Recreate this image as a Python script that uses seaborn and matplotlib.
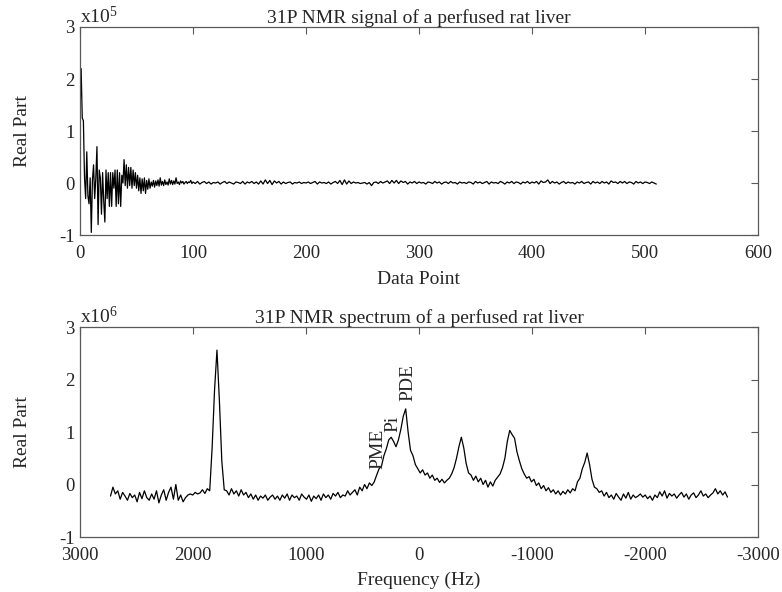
import matplotlib
matplotlib.use("Agg")
import matplotlib.pyplot as plt
import seaborn as sns
import pandas as pd
import numpy as np


# ---- FID (top panel), real part in units of 1e5 ----
# every data point for the first 100 samples
FID_HEAD = [
    1.30, 2.20, 1.25, 1.20, 0.10, -0.30, 0.60, -0.25, -0.40, 0.10,
    -0.95, 0.05, 0.35, -0.30, 0.10, 0.70, -0.80, 0.25, 0.10, -0.60,
    0.20, -0.35, -0.75, 0.25, -0.30, 0.20, -0.45, 0.20, -0.45, 0.20,
    -0.10, 0.25, -0.45, 0.25, -0.40, 0.20, -0.45, 0.15, 0.00, 0.45,
    -0.05, 0.35, -0.10, 0.30, -0.05, 0.30, -0.10, 0.25, -0.05, 0.20,
    -0.10, 0.15, -0.15, 0.10, -0.20, 0.08, -0.15, 0.10, -0.20, 0.05,
    -0.12, 0.08, -0.10, 0.02, -0.06, 0.05, -0.08, 0.04, -0.05, 0.06,
    -0.06, 0.10, -0.04, 0.03, -0.05, 0.06, -0.03, 0.02, -0.04, 0.08,
    -0.02, 0.05, -0.03, 0.04, -0.02, 0.10, -0.01, 0.02, -0.03, 0.04,
    0.00, 0.03, -0.02, 0.01, 0.03, -0.01, 0.02, 0.01, 0.05, -0.01,
]
# every second data point from 100 to 510
FID_TAIL = [
    0.02, -0.01, 0.03, -0.02, 0.01, 0.03, -0.01, 0.02, -0.02, 0.01,
    0.00, 0.02, -0.02, 0.01, 0.03, -0.01, 0.02, 0.00, -0.02, 0.02,
    0.01, -0.01, 0.03, -0.02, 0.02, 0.00, 0.03, -0.01, 0.02, -0.02,
    0.04, -0.02, 0.06, -0.01, 0.05, -0.03, 0.04, 0.00, 0.03, -0.02,
    0.02, -0.01, 0.01, 0.02, -0.02, 0.01, 0.00, 0.02, -0.01, 0.01,
    0.00, 0.02, -0.01, 0.01, 0.03, -0.02, 0.02, 0.00, 0.01, -0.01,
    0.02, -0.02, 0.01, 0.03, -0.01, 0.05, -0.03, 0.06, -0.02, 0.04,
    -0.01, 0.02, 0.00, 0.01, -0.01, 0.00, 0.01, -0.02, 0.01, -0.05,
    0.01, 0.02, -0.01, 0.03, 0.00, 0.02, 0.04, -0.01, 0.05, 0.00,
    0.05, -0.01, 0.04, 0.01, 0.03, -0.02, 0.02, 0.00, 0.03, -0.01,
    0.02, 0.00, 0.01, -0.02, 0.02, 0.01, -0.01, 0.03, 0.00, 0.02,
    -0.02, 0.01, 0.02, -0.01, 0.03, 0.00, 0.01, -0.02, 0.02, 0.00,
    0.01, -0.01, 0.02, 0.01, -0.02, 0.03, 0.00, 0.02, -0.01, 0.01,
    0.03, -0.02, 0.02, 0.00, 0.01, -0.01, 0.03, 0.01, -0.02, 0.02,
    0.00, 0.03, -0.01, 0.02, 0.01, -0.02, 0.02, 0.00, 0.03, -0.01,
    0.02, 0.00, 0.03, -0.02, 0.04, 0.01, 0.02, 0.06, -0.01, 0.03,
    0.00, 0.02, -0.02, 0.01, 0.03, -0.01, 0.02, 0.00, 0.01, -0.02,
    0.02, 0.00, 0.03, -0.01, 0.01, 0.02, -0.02, 0.03, 0.00, 0.02,
    -0.01, 0.03, 0.00, 0.02, -0.02, 0.04, 0.01, 0.02, -0.01, 0.03,
    0.00, 0.03, -0.01, 0.02, 0.01, -0.02, 0.03, 0.00, 0.02, -0.01,
    0.02, 0.01, -0.01, 0.02, 0.00, -0.02,
]

# ---- spectrum (bottom panel), real part in units of 1e6 ----
FREQ_START, FREQ_END = 2730, -2730
SPECTRUM = [
    -0.22, -0.05, -0.18, -0.12, -0.28, -0.15, -0.22, -0.30, -0.17, -0.25,
    -0.20, -0.33, -0.15, -0.27, -0.12, -0.25, -0.30, -0.18, -0.28, -0.12,
    -0.35, -0.20, -0.10, -0.30, -0.15, -0.05, -0.28, 0.00, -0.30, -0.20,
    -0.33, -0.25, -0.20, -0.18, -0.20, -0.15, -0.18, -0.16, -0.10, -0.17,
    -0.08, -0.12, 0.70, 1.80, 2.56, 1.60, 0.45, -0.10, -0.12, -0.20,
    -0.08, -0.18, -0.12, -0.22, -0.10, -0.20, -0.15, -0.25, -0.18, -0.28,
    -0.20, -0.30, -0.22, -0.26, -0.20, -0.30, -0.24, -0.20, -0.28, -0.22,
    -0.30, -0.20, -0.26, -0.18, -0.30, -0.20, -0.25, -0.22, -0.30, -0.18,
    -0.24, -0.28, -0.20, -0.32, -0.22, -0.27, -0.20, -0.30, -0.18, -0.25,
    -0.20, -0.28, -0.17, -0.22, -0.15, -0.25, -0.20, -0.22, -0.12, -0.20,
    -0.15, -0.10, -0.20, -0.05, -0.12, 0.00, -0.08, 0.03, -0.02, 0.05,
    0.18, 0.30, 0.35, 0.55, 0.68, 0.85, 0.90, 0.82, 0.72, 0.85,
    1.05, 1.30, 1.44, 1.00, 0.65, 0.55, 0.38, 0.30, 0.22, 0.28,
    0.18, 0.22, 0.12, 0.18, 0.08, 0.12, 0.04, 0.10, 0.03, 0.08,
    0.12, 0.20, 0.32, 0.50, 0.72, 0.90, 0.70, 0.40, 0.22, 0.18,
    0.08, 0.16, 0.05, 0.12, 0.00, 0.08, -0.05, 0.05, -0.03, 0.08,
    0.14, 0.20, 0.32, 0.50, 0.82, 1.03, 0.95, 0.88, 0.62, 0.45,
    0.30, 0.20, 0.12, 0.15, 0.05, 0.10, -0.02, 0.03, -0.08, -0.02,
    -0.12, -0.06, -0.15, -0.10, -0.18, -0.12, -0.20, -0.13, -0.18, -0.10,
    -0.16, -0.08, -0.12, 0.05, 0.12, 0.30, 0.42, 0.60, 0.38, 0.10,
    -0.05, -0.08, -0.15, -0.12, -0.22, -0.15, -0.25, -0.20, -0.28, -0.17,
    -0.24, -0.30, -0.18, -0.26, -0.15, -0.28, -0.20, -0.25, -0.22, -0.18,
    -0.24, -0.20, -0.27, -0.22, -0.30, -0.20, -0.25, -0.14, -0.22, -0.12,
    -0.26, -0.17, -0.22, -0.18, -0.26, -0.20, -0.15, -0.24, -0.18, -0.28,
    -0.20, -0.16, -0.25, -0.20, -0.12, -0.22, -0.18, -0.25, -0.20, -0.16,
    -0.08, -0.18, -0.12, -0.20, -0.14, -0.24,
]

PEAK_LABELS = ["PME", "Pi", "PDE"]
PEAK_LABEL_FREQ = [366, 229, 101]
PEAK_LABEL_Y = [0.29, 1.00, 1.60]

TOP_XTICKS = [0, 100, 200, 300, 400, 500, 600]
BOTTOM_XTICKS = [3000, 2000, 1000, 0, -1000, -2000, -3000]
YTICKS = [-1, 0, 1, 2, 3]


sns.set_style("white")
plt.rcParams["font.family"] = ["Liberation Serif", "DejaVu Serif"]
plt.rcParams["mathtext.fontset"] = "custom"
plt.rcParams["mathtext.rm"] = "Liberation Serif"
plt.rcParams["mathtext.it"] = "Liberation Serif"
plt.rcParams["axes.unicode_minus"] = False

FS = 14
TICK_FS = 13.5
FRAME = "0.35"

fid = pd.DataFrame({
    "Data Point": np.concatenate([np.arange(len(FID_HEAD)),
                                  len(FID_HEAD) + 2 * np.arange(len(FID_TAIL))]),
    "Real Part": FID_HEAD + FID_TAIL,
})
spec = pd.DataFrame({
    "Frequency (Hz)": np.linspace(FREQ_START, FREQ_END, len(SPECTRUM)),
    "Real Part": SPECTRUM,
})

fig = plt.figure(figsize=(7.82, 5.92), dpi=100)
ax1 = fig.add_axes([0.1023, 0.603, 0.8670, 0.3514])
ax2 = fig.add_axes([0.1023, 0.0929, 0.8670, 0.3547])

sns.lineplot(data=fid, x="Data Point", y="Real Part", color="black",
             linewidth=0.9, ax=ax1)
sns.lineplot(data=spec, x="Frequency (Hz)", y="Real Part", color="black",
             linewidth=0.9, ax=ax2, sort=False)

ax1.set_xlim(0, 600)
ax1.set_xticks(TOP_XTICKS)
ax2.set_xlim(3000, -3000)
ax2.set_xticks(BOTTOM_XTICKS)
ax2.set_xticklabels([str(t) for t in BOTTOM_XTICKS])

for ax, title, exp in [
    (ax1, "31P NMR signal of a perfused rat liver", "5"),
    (ax2, "31P NMR spectrum of a perfused rat liver", "6"),
]:
    ax.set_ylim(-1, 3)
    ax.set_yticks(YTICKS)
    ax.tick_params(direction="in", length=5, width=0.8, color=FRAME,
                   top=True, right=True, labelsize=TICK_FS)
    ax.tick_params(axis="x", pad=7)
    ax.tick_params(axis="y", pad=4)
    for side in ax.spines.values():
        side.set_color(FRAME)
        side.set_linewidth(0.9)
    ax.set_title(title, fontsize=FS, pad=3)
    ax.set_ylabel("Real Part", fontsize=FS)
    ax.yaxis.set_label_coords(-0.072, 0.5)
    ax.text(0.0, 1.0, "x10$^{" + exp + "}$", transform=ax.transAxes,
            ha="left", va="bottom", fontsize=FS)

ax1.set_xlabel("Data Point", fontsize=FS)
ax1.xaxis.set_label_coords(0.5, -0.175)
ax2.set_xlabel("Frequency (Hz)", fontsize=FS)
ax2.xaxis.set_label_coords(0.5, -0.165)

for label, f, y in zip(PEAK_LABELS, PEAK_LABEL_FREQ, PEAK_LABEL_Y):
    ax2.text(f, y, label, rotation=90, ha="center", va="bottom", fontsize=FS)

fig.savefig("out.png", dpi=100)
